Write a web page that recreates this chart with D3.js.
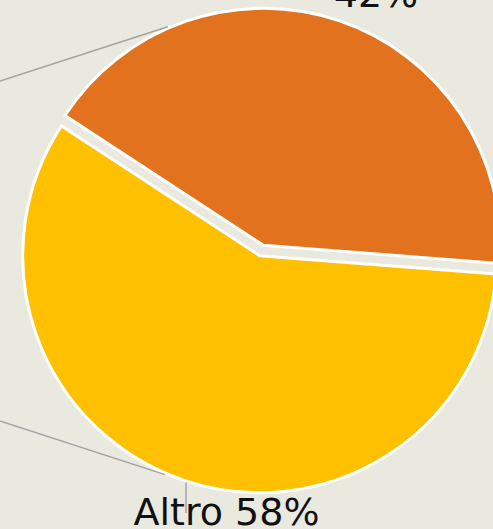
<!DOCTYPE html>
<html>
<head>
<meta charset="utf-8">
<script src="https://cdn.jsdelivr.net/npm/d3@7"></script>
<style>
  html, body { margin: 0; padding: 0; background: #e9e9e0; }
  svg { display: block; }
</style>
</head>
<body>
<div id="chart"></div>
<script>
// data
const categories = ["", "Altro"];
const values = [42, 58];
const colors = ["#e2721e", "#ffc000"];

const width = 493, height = 529;
const cx = 261.5, cy = 250.5, radius = 237, explode = 5.5;
const startDeg = -56.8;

const rad = (d) => (d * Math.PI) / 180;

const svg = d3
  .select("#chart")
  .append("svg")
  .attr("width", width)
  .attr("height", height);

svg.append("rect").attr("width", width).attr("height", height).attr("fill", "#e9e9e0");

const pie = d3
  .pie()
  .sort(null)
  .startAngle(rad(startDeg))
  .endAngle(rad(startDeg) + 2 * Math.PI);

const arcs = pie(values);
const arc = d3.arc().innerRadius(0).outerRadius(radius);

// offset of each exploded slice along its mid angle
const offset = (d) => {
  const m = (d.startAngle + d.endAngle) / 2;
  return [cx + explode * Math.sin(m), cy - explode * Math.cos(m)];
};

const g = svg.append("g");

g.selectAll("path.slice")
  .data(arcs)
  .join("path")
  .attr("class", "slice")
  .attr("transform", (d) => "translate(" + offset(d) + ")")
  .attr("d", arc)
  .attr("fill", (d, i) => colors[i])
  .attr("stroke", "#fff")
  .attr("stroke-width", 3)
  .attr("stroke-linejoin", "miter");

// leader lines: start on a slice's rim, run out to the left edge
const leaders = [
  { slice: 0, angle: -23.6, end: [0, 81] },
  { slice: 1, angle: 203.4, end: [0, 421] },
];
const rimPoint = (i, a, r) => {
  const [ox, oy] = offset(arcs[i]);
  return [ox + r * Math.sin(rad(a)), oy - r * Math.cos(rad(a))];
};

svg
  .selectAll("line.leader")
  .data(leaders)
  .join("line")
  .attr("class", "leader")
  .attr("x1", (d) => rimPoint(d.slice, d.angle, radius + 1.5)[0])
  .attr("y1", (d) => rimPoint(d.slice, d.angle, radius + 1.5)[1])
  .attr("x2", (d) => d.end[0])
  .attr("y2", (d) => d.end[1])
  .attr("stroke", "#a3a3a3")
  .attr("stroke-width", 1.5);

// short tick down to the "Altro" label
const tick = rimPoint(1, 198, radius + 1.5);
svg
  .append("line")
  .attr("x1", tick[0])
  .attr("y1", tick[1])
  .attr("x2", tick[0])
  .attr("y2", 513)
  .attr("stroke", "#a3a3a3")
  .attr("stroke-width", 1.5);

// labels
const labelPos = [
  { x: 376, y: 7 },
  { x: 226.5, y: 525 },
];
svg
  .selectAll("text.label")
  .data(arcs)
  .join("text")
  .attr("class", "label")
  .attr("x", (d, i) => labelPos[i].x)
  .attr("y", (d, i) => labelPos[i].y)
  .attr("text-anchor", "middle")
  .attr("font-family", "DejaVu Sans, Verdana, sans-serif")
  .attr("font-size", 38)
  .attr("fill", "#111")
  .text((d, i) => (categories[i] ? categories[i] + " " : "") + values[i] + "%");
</script>
</body>
</html>
